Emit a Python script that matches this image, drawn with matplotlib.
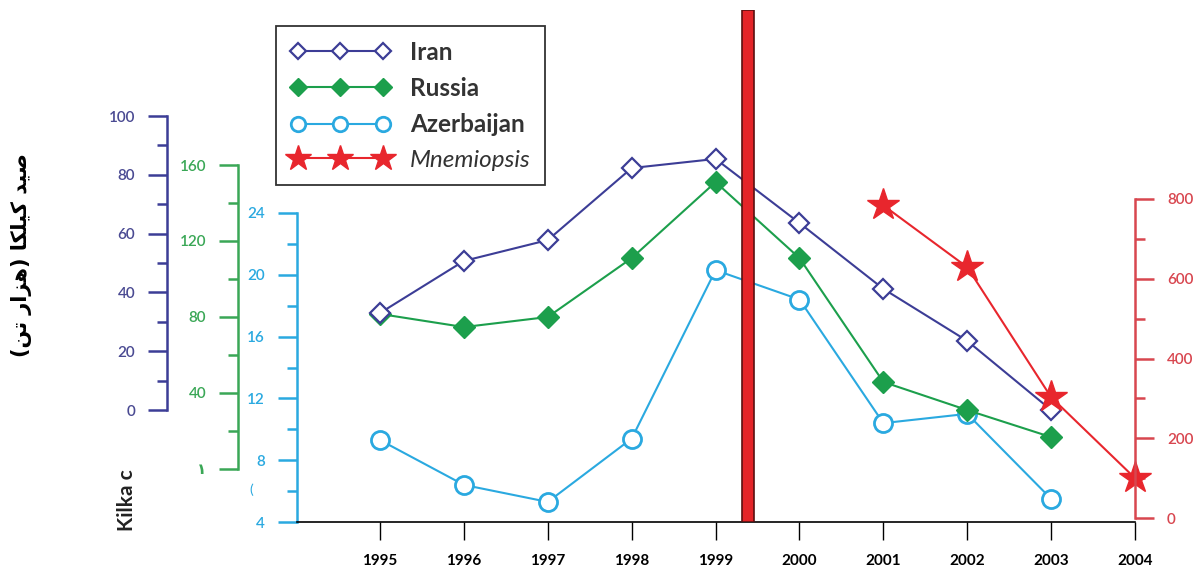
import matplotlib
matplotlib.use("Agg")
import matplotlib.pyplot as plt
from matplotlib.ticker import FixedLocator

years = [1995, 1996, 1997, 1998, 1999, 2000, 2001, 2002, 2003]
iran = [33, 50.7, 57.8, 82.3, 85.4, 63.6, 41.2, 23.5, 0]
russia = [81.6, 74.7, 80, 111, 151, 111, 45.8, 31, 16.8]
azerbaijan = [9.3, 6.4, 5.3, 9.4, 20.3, 18.4, 10.4, 11.0, 5.5]
mnemiopsis_years = [2001, 2002, 2003, 2004]
mnemiopsis = [784, 629, 303, 100]
year_ticks = [1995, 1996, 1997, 1998, 1999, 2000, 2001, 2002, 2003, 2004]
invasion_span = (1999.32, 1999.46)

C_IR = "#3c3d96"
C_RU = "#1c9f4c"
C_AZ = "#2aa9e0"
C_MN = "#e8262d"
C_MN_AX = "#d8464f"

W, H = 1195, 573
L, R, B, T = 297, 1135, 522, 10

plt.rcParams["font.family"] = ["Lato", "DejaVu Sans"]

fig = plt.figure(figsize=(W / 100, H / 100), dpi=100)
rect = [L / W, 1 - B / H, (R - L) / W, (B - T) / H]


def lim(v0, p0, k):
    # y-limits so that value v0 sits at pixel row p0 with k px per unit
    return (v0 - (B - p0) / k, v0 + (p0 - T) / k)


ax_az = fig.add_axes(rect)
ax_ru = fig.add_axes(rect, sharex=ax_az)
ax_ir = fig.add_axes(rect, sharex=ax_az)
ax_mn = fig.add_axes(rect, sharex=ax_az)

for a in (ax_az, ax_ru, ax_ir, ax_mn):
    a.set_facecolor("none")
    for s in a.spines.values():
        s.set_visible(False)

ax_az.set_xlim(1994.01, 2004)
ax_az.set_xticks(year_ticks)
ax_az.set_xticklabels([str(y) for y in year_ticks])
ax_az.spines["bottom"].set_visible(True)
ax_az.spines["bottom"].set_linewidth(1.2)
ax_az.tick_params(axis="x", direction="out", length=13, width=1, pad=10,
                  labelsize=11, colors="black")
for lab in ax_az.get_xticklabels():
    lab.set_fontweight("bold")

for a in (ax_ru, ax_ir, ax_mn):
    a.tick_params(axis="x", bottom=False, labelbottom=False)


def style_y(a, side, color, lims, bounds, major, minor, outward):
    a.set_ylim(*lims)
    sp = a.spines[side]
    sp.set_visible(True)
    sp.set_color(color)
    sp.set_linewidth(1.8)
    sp.set_bounds(*bounds)
    sp.set_position(("outward", outward))
    a.yaxis.set_ticks_position(side)
    a.yaxis.set_major_locator(FixedLocator(major))
    a.yaxis.set_minor_locator(FixedLocator(minor))
    a.tick_params(axis="y", which="major", direction="out", length=14, width=1.8,
                  color=color, labelcolor=color, labelsize=11, pad=9)
    a.tick_params(axis="y", which="minor", direction="out", length=7, width=1.8,
                  color=color)


style_y(ax_az, "left", C_AZ, lim(4, 522, 15.45), (4, 24),
        [4, 8, 12, 16, 20, 24], [6, 10, 14, 18, 22], 0)
style_y(ax_ru, "left", "#3aa756", lim(0, 469, 1.9), (0, 160),
        [0, 40, 80, 120, 160], [20, 60, 100, 140], 42.5)
ax_ru.set_yticklabels(["\u06f1", "40", "80", "120", "160"])
style_y(ax_ir, "left", C_IR, lim(0, 410, 2.94), (0, 100),
        [0, 20, 40, 60, 80, 100], [10, 30, 50, 70, 90], 93.6)
style_y(ax_mn, "right", C_MN_AX, lim(0, 518, 0.39875), (0, 800),
        [0, 200, 400, 600, 800], [100, 300, 500, 700], 0)
ax_ir.tick_params(axis="y", labelcolor="#4a4a92")
for a in (ax_az, ax_ru, ax_ir, ax_mn):
    for lab in a.get_yticklabels():
        lab.set_fontweight("semibold")

ax_az.plot(years, azerbaijan, color=C_AZ, lw=1.5, marker="o", ms=13,
           mfc="white", mec=C_AZ, mew=2, clip_on=False, label="Azerbaijan")
ax_ru.plot(years, russia, color=C_RU, lw=1.5, marker="D", ms=11,
           mfc=C_RU, mec=C_RU, clip_on=False, label="Russia")
ax_ir.plot(years, iran, color=C_IR, lw=1.5, marker="D", ms=10,
           mfc="white", mec=C_IR, mew=1.6, clip_on=False, label="Iran")
ax_mn.plot(mnemiopsis_years, mnemiopsis, color=C_MN, lw=1.5, marker="*", ms=24,
           mfc=C_MN, mec=C_MN, clip_on=False, label="Mnemiopsis")

ax_mn.axvspan(*invasion_span, facecolor="#e42428", edgecolor="#5a1010",
              lw=1.2, zorder=5)

h_ir = ax_ir.get_lines()[0]
h_ru = ax_ru.get_lines()[0]
h_az = ax_az.get_lines()[0]
h_mn = ax_mn.get_lines()[0]
leg = fig.legend([h_ir, h_ru, h_az, h_mn],
                 ["Iran", "Russia", "Azerbaijan", "Mnemiopsis"],
                 loc="upper left", bbox_to_anchor=(276 / W, 1 - 26 / H),
                 numpoints=3, handlelength=4.1, handletextpad=0.8,
                 labelspacing=0.55, borderpad=0.6, borderaxespad=0,
                 fancybox=False, edgecolor="black", fontsize=17.5,
                 markerscale=0.8)
leg.get_frame().set_linewidth(1.3)
for i, t in enumerate(leg.get_texts()):
    t.set_color("#333333")
    if i < 3:
        t.set_fontweight("bold")
    else:
        t.set_fontstyle("italic")

# Persian axis label, shaped and ordered for left-to-right drawing
persian = ("(\ufee6\ufe97 \ufead\ufe8d\ufeb0\ufeeb) "
           "\ufe8e\ufedc\ufee0\ufef4\ufedb \ufeaa\ufef4\ufebb")
fig.text(22 / W, 1 - 255 / H, persian, rotation=90, ha="center", va="center",
         fontsize=15, fontweight="bold", family="DejaVu Sans")
fig.text(127 / W, 1 - 500 / H, "Kilka c", rotation=90, ha="center",
         va="center", fontsize=15, fontweight="bold", color="#222222")
fig.text(251 / W, 1 - 490 / H, "(", ha="center", va="center",
         fontsize=10, color=C_AZ)

fig.savefig("out.png", dpi=100)
